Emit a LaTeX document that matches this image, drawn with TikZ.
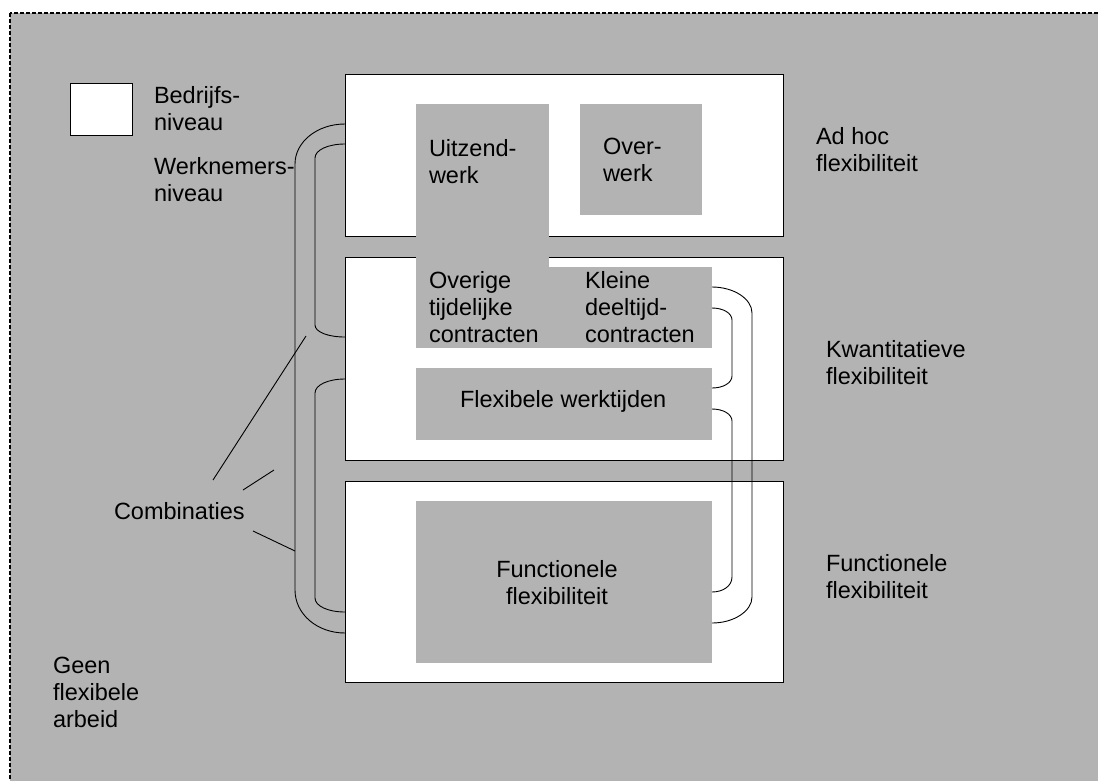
\documentclass[tikz,border=0pt]{standalone}
\usepackage{fontspec}
\setmainfont{Liberation Sans}
\definecolor{panel}{RGB}{179,179,179}
\begin{document}
\begin{tikzpicture}[x=1pt,y=-1pt,
  txt/.style={font=\fontsize{23.5}{27}\selectfont, inner sep=0pt, outer sep=0pt, anchor=base west, align=left},
  box/.style={rectangle, anchor=north west, inner sep=0pt, outer sep=0pt},
  level/.style={box, draw=black, fill=white, line width=1pt},
  shade/.style={box, fill=panel, draw=none},
  link/.style={draw=black, line width=0.9pt},
]
\useasboundingbox (0,0) rectangle (1098,780);

% dashed frame with grey field
\draw[fill=panel, line width=1.1pt, dash pattern=on 4pt off 2pt] (10,13) rectangle (1104,786);

% legend square
\node[level, minimum width=62pt, minimum height=52pt] (legend) at (70,83) {};

% the three levels
\node[level, minimum width=438pt, minimum height=162pt] (top) at (345,74) {};
\node[level, minimum width=438pt, minimum height=203pt] (mid) at (345,257) {};
\node[level, minimum width=438pt, minimum height=201pt] (bot) at (345,481) {};

% forms of flexible work
\node[shade, minimum width=133pt, minimum height=164pt] (uitz) at (416,104) {};
\node[shade, minimum width=122pt, minimum height=111pt] (over) at (580,104) {};
\node[shade, minimum width=296pt, minimum height=81pt] (contr) at (416,267) {};
\node[shade, minimum width=296pt, minimum height=72pt] (flex) at (416,368) {};
\node[shade, minimum width=296pt, minimum height=162pt] (func) at (416,501) {};

% bracket end points
\coordinate (LoA) at (345,124);
\coordinate (LoB) at (345,633);
\coordinate (LuA) at (345,144);
\coordinate (LuB) at (345,337);
\coordinate (LlA) at (345,379);
\coordinate (LlB) at (345,612);
\coordinate (RoA) at (712,287);
\coordinate (RoB) at (712,623);
\coordinate (RuA) at (712,308);
\coordinate (RuB) at (712,388);
\coordinate (RlA) at (712,409);
\coordinate (RlB) at (712,592);

% left brackets
\draw[link] (LoA) .. controls (317,124) and (295,142) .. (295,164)
  -- (295,590) .. controls (295,614) and (317,633) .. (LoB);
\draw[link] (LuA) .. controls (328,144) and (315,150) .. (315,158)
  -- (315,325) .. controls (315,332) and (328,337) .. (LuB);
\draw[link] (LlA) .. controls (328,379) and (315,385) .. (315,393)
  -- (315,598) .. controls (315,606) and (328,612) .. (LlB);

% right brackets
\draw[link] (RoA) .. controls (734,287) and (752,299) .. (752,313)
  -- (752,597) .. controls (752,611) and (734,623) .. (RoB);
\draw[link] (RuA) .. controls (723,308) and (732,313) .. (732,320)
  -- (732,376) .. controls (732,383) and (723,388) .. (RuB);
\draw[link] (RlA) .. controls (723,409) and (732,414) .. (732,421)
  -- (732,577) .. controls (732,586) and (723,592) .. (RlB);

% pointers from the combinations label
\node[txt] (comb) at (114,519) {Combinaties};
\coordinate (c1a) at (213,480); \coordinate (c1b) at (306,336);
\coordinate (c2a) at (243,490); \coordinate (c2b) at (274,470);
\coordinate (c3a) at (253,531); \coordinate (c3b) at (295,551);
\draw[link] (c1a) -- (c1b);
\draw[link] (c2a) -- (c2b);
\draw[link] (c3a) -- (c3b);

% labels (anchored at the baseline of their last line)
\node[txt] (lbed) at (154,130) {Bedrijfs-\\niveau};
\node[txt] (lwer) at (154,201) {Werknemers-\\niveau};
\node[txt] (lgeen) at (53,727) {Geen\\flexibele\\arbeid};
\node[txt] (ladhoc) at (816,171) {Ad hoc\\flexibiliteit};
\node[txt] (lkwan) at (826,384) {Kwantitatieve\\flexibiliteit};
\node[txt] (lfunc) at (826,598) {Functionele\\flexibiliteit};

\node[txt] (tuitz) at (429,183) {Uitzend-\\werk};
\node[txt] (tover) at (603,181) {Over-\\werk};
\node[txt] (toverig) at (429,342) {Overige\\tijdelijke\\contracten};
\node[txt] (tklein) at (585,342) {Kleine\\deeltijd-\\contracten};
\node[txt] (tflex) at (460,407) {Flexibele werktijden};
\node[txt, anchor=base, align=center] (tfunc) at (557,604) {Functionele\\flexibiliteit};
\end{tikzpicture}
\end{document}
